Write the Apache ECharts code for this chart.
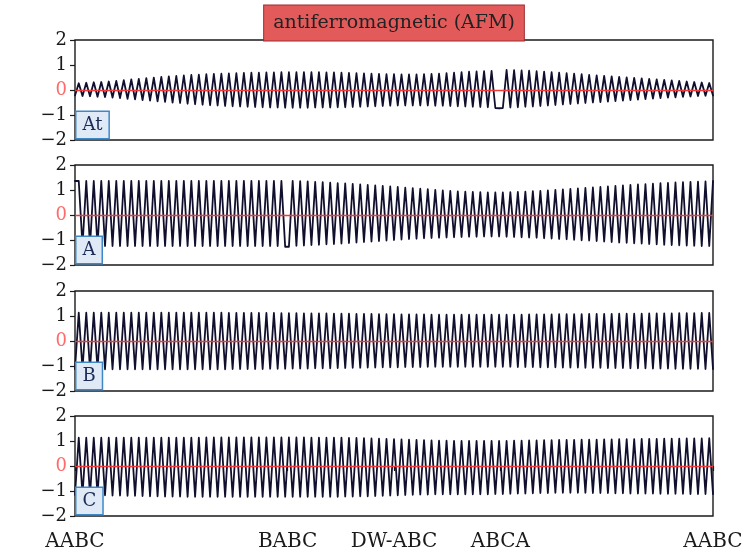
<!DOCTYPE html>
<html>
<head>
<meta charset="utf-8">
<script src="https://cdn.jsdelivr.net/npm/echarts@6/dist/echarts.min.js"></script>
<style>
  html, body { margin: 0; padding: 0; background: #fff; }
  #chart { width: 747px; height: 560px; }
</style>
</head>
<body>
<div id="chart"></div>
<script>
// stacking positions along the chain (atom index) and their names
const tickPos = [0, 56.667, 85, 113.333, 170]
const tickLabels = ['AABC', 'BABC', 'DW-ABC', 'ABCA', 'AABC']
const panelNames = ['At', 'A', 'B', 'C']
const chartTitle = 'antiferromagnetic (AFM)'
const yTicks = [-2, -1, 0, 1, 2]

// magnetic moment per atom
const momentAt = [
  -0.22, 0.27, -0.24, 0.29, -0.25, 0.31, -0.27, 0.32, -0.28, 0.34,
  -0.30, 0.36, -0.32, 0.39, -0.35, 0.42, -0.37, 0.44, -0.40, 0.47,
  -0.42, 0.49, -0.45, 0.52, -0.47, 0.54, -0.50, 0.56, -0.52, 0.58,
  -0.55, 0.60, -0.57, 0.61, -0.59, 0.63, -0.61, 0.64, -0.62, 0.65,
  -0.64, 0.66, -0.65, 0.67, -0.66, 0.68, -0.67, 0.69, -0.68, 0.69,
  -0.69, 0.70, -0.70, 0.70, -0.70, 0.71, -0.71, 0.71, -0.71, 0.71,
  -0.71, 0.71, -0.71, 0.71, -0.70, 0.71, -0.70, 0.70, -0.70, 0.70,
  -0.69, 0.69, -0.69, 0.68, -0.68, 0.67, -0.67, 0.66, -0.66, 0.65,
  -0.65, 0.64, -0.64, 0.63, -0.63, 0.63, -0.62, 0.62, -0.62, 0.62,
  -0.62, 0.62, -0.62, 0.63, -0.62, 0.64, -0.63, 0.65, -0.63, 0.67,
  -0.64, 0.69, -0.65, 0.71, -0.66, 0.73, -0.67, 0.74, -0.68, 0.75,
  -0.69, 0.76, -0.72, -0.73, -0.72, 0.80, -0.70, 0.79, -0.69, 0.78,
  -0.67, 0.77, -0.66, 0.75, -0.64, 0.73, -0.62, 0.71, -0.60, 0.69,
  -0.58, 0.67, -0.56, 0.65, -0.54, 0.63, -0.52, 0.60, -0.50, 0.58,
  -0.48, 0.56, -0.46, 0.54, -0.44, 0.52, -0.42, 0.50, -0.40, 0.48,
  -0.38, 0.46, -0.36, 0.44, -0.34, 0.42, -0.32, 0.40, -0.30, 0.38,
  -0.29, 0.36, -0.27, 0.34, -0.26, 0.32, -0.24, 0.30, -0.23, 0.28,
  -0.22
]

const momentA = [
  1.36, 1.36, -1.24, 1.36, -1.24, 1.36, -1.24, 1.36, -1.24, 1.36,
  -1.24, 1.36, -1.24, 1.36, -1.24, 1.36, -1.24, 1.36, -1.24, 1.36,
  -1.24, 1.36, -1.24, 1.36, -1.24, 1.36, -1.24, 1.36, -1.24, 1.36,
  -1.24, 1.36, -1.24, 1.36, -1.24, 1.36, -1.24, 1.36, -1.24, 1.36,
  -1.24, 1.36, -1.24, 1.36, -1.24, 1.36, -1.24, 1.36, -1.24, 1.36,
  -1.24, 1.36, -1.24, 1.36, -1.24, 1.36, -1.27, -1.27, 1.36, -1.23,
  1.35, -1.22, 1.34, -1.20, 1.32, -1.19, 1.31, -1.17, 1.29, -1.16,
  1.27, -1.14, 1.26, -1.12, 1.24, -1.10, 1.22, -1.08, 1.20, -1.06,
  1.18, -1.04, 1.16, -1.02, 1.14, -1.00, 1.12, -0.98, 1.09, -0.96,
  1.07, -0.95, 1.05, -0.93, 1.03, -0.92, 1.00, -0.91, 0.98, -0.90,
  0.96, -0.89, 0.94, -0.88, 0.93, -0.87, 0.92, -0.87, 0.91, -0.86,
  0.90, -0.86, 0.90, -0.86, 0.90, -0.87, 0.91, -0.88, 0.92, -0.89,
  0.93, -0.90, 0.95, -0.91, 0.96, -0.93, 0.98, -0.94, 1.00, -0.96,
  1.02, -0.97, 1.04, -0.99, 1.06, -1.01, 1.08, -1.02, 1.10, -1.04,
  1.12, -1.06, 1.14, -1.08, 1.16, -1.10, 1.18, -1.11, 1.20, -1.13,
  1.22, -1.14, 1.23, -1.16, 1.25, -1.17, 1.27, -1.19, 1.28, -1.20,
  1.30, -1.21, 1.31, -1.22, 1.32, -1.23, 1.33, -1.24, 1.34, -1.24,
  1.36
]

const momentB = [
  -1.12, 1.13, -1.13, 1.13, -1.13, 1.13, -1.13, 1.13, -1.13, 1.13,
  -1.13, 1.13, -1.13, 1.13, -1.13, 1.13, -1.13, 1.13, -1.13, 1.13,
  -1.13, 1.13, -1.13, 1.13, -1.13, 1.13, -1.13, 1.13, -1.13, 1.13,
  -1.13, 1.13, -1.13, 1.13, -1.13, 1.13, -1.13, 1.13, -1.13, 1.13,
  -1.13, 1.12, -1.12, 1.12, -1.12, 1.12, -1.12, 1.12, -1.12, 1.12,
  -1.12, 1.12, -1.11, 1.12, -1.11, 1.11, -1.11, 1.11, -1.10, 1.11,
  -1.10, 1.10, -1.10, 1.10, -1.09, 1.10, -1.09, 1.10, -1.09, 1.09,
  -1.08, 1.09, -1.08, 1.09, -1.07, 1.08, -1.07, 1.08, -1.06, 1.08,
  -1.06, 1.07, -1.05, 1.07, -1.05, 1.07, -1.05, 1.06, -1.04, 1.06,
  -1.04, 1.06, -1.04, 1.06, -1.03, 1.05, -1.03, 1.05, -1.03, 1.05,
  -1.03, 1.05, -1.03, 1.05, -1.03, 1.05, -1.03, 1.05, -1.03, 1.05,
  -1.03, 1.05, -1.03, 1.05, -1.03, 1.05, -1.03, 1.05, -1.04, 1.05,
  -1.04, 1.06, -1.04, 1.06, -1.05, 1.06, -1.05, 1.06, -1.05, 1.07,
  -1.06, 1.07, -1.06, 1.07, -1.06, 1.07, -1.07, 1.08, -1.07, 1.08,
  -1.07, 1.08, -1.08, 1.08, -1.08, 1.09, -1.08, 1.09, -1.09, 1.09,
  -1.09, 1.09, -1.09, 1.10, -1.10, 1.10, -1.10, 1.10, -1.10, 1.10,
  -1.11, 1.11, -1.11, 1.11, -1.11, 1.11, -1.11, 1.12, -1.12, 1.12,
  -1.12
]

const momentC = [
  -1.15, 1.13, -1.15, 1.13, -1.16, 1.13, -1.16, 1.13, -1.17, 1.13,
  -1.18, 1.13, -1.18, 1.13, -1.19, 1.13, -1.19, 1.13, -1.20, 1.13,
  -1.21, 1.13, -1.21, 1.13, -1.22, 1.13, -1.22, 1.13, -1.22, 1.13,
  -1.23, 1.13, -1.23, 1.13, -1.23, 1.14, -1.23, 1.14, -1.23, 1.14,
  -1.23, 1.14, -1.23, 1.14, -1.23, 1.14, -1.23, 1.14, -1.23, 1.14,
  -1.23, 1.14, -1.23, 1.14, -1.23, 1.14, -1.23, 1.14, -1.23, 1.14,
  -1.23, 1.14, -1.23, 1.13, -1.23, 1.13, -1.23, 1.13, -1.23, 1.13,
  -1.23, 1.13, -1.22, 1.12, -1.22, 1.12, -1.21, 1.11, -1.21, 1.10,
  -1.20, 1.09, -1.19, 1.08, -1.18, 1.07, -1.17, 1.06, -1.16, 1.05,
  -1.15, 1.04, -1.14, 1.03, -1.14, 1.02, -1.13, 1.01, -1.13, 1.01,
  -1.13, 1.00, -1.13, 1.00, -1.13, 1.00, -1.13, 1.00, -1.13, 1.00,
  -1.13, 1.00, -1.12, 1.00, -1.12, 1.00, -1.11, 1.01, -1.10, 1.01,
  -1.10, 1.02, -1.09, 1.02, -1.08, 1.03, -1.08, 1.03, -1.07, 1.04,
  -1.07, 1.04, -1.07, 1.04, -1.07, 1.05, -1.07, 1.05, -1.08, 1.05,
  -1.08, 1.06, -1.08, 1.06, -1.09, 1.07, -1.09, 1.07, -1.10, 1.07,
  -1.10, 1.08, -1.10, 1.08, -1.10, 1.08, -1.11, 1.09, -1.11, 1.09,
  -1.11, 1.09, -1.11, 1.10, -1.12, 1.10, -1.12, 1.10, -1.12, 1.11,
  -1.12
]

const panels = [momentAt, momentA, momentB, momentC]

const font = 'DejaVu Serif'
const lineColor = '#10102e'
const gridLeft = 75
const gridWidth = 638
const gridHeight = 100
const gridTops = [40, 165, 291, 416]

const minus = v => (v < 0 ? '\u2212' + Math.abs(v) : String(v))

const grids = gridTops.map(top => ({
  left: gridLeft,
  top: top,
  width: gridWidth,
  height: gridHeight,
  show: true,
  borderColor: '#1a1a1a',
  borderWidth: 1.4,
  backgroundColor: 'transparent'
}))

const xAxes = panels.map((_, i) => {
  const last = i === panels.length - 1
  return {
    type: 'value',
    gridIndex: i,
    min: 0,
    max: 170,
    splitLine: { show: false },
    axisLine: { show: false },
    axisTick: {
      show: last,
      inside: false,
      length: 5,
      customValues: tickPos,
      lineStyle: { color: '#1a1a1a', width: 1.2 }
    },
    axisLabel: {
      show: last,
      customValues: tickPos,
      margin: 16,
      fontFamily: font,
      fontSize: 20,
      color: '#1a1a1a',
      formatter: v => {
        const k = tickPos.findIndex(p => Math.abs(p - v) < 0.01)
        return k >= 0 ? tickLabels[k] : ''
      }
    }
  }
})

const yAxes = panels.map((_, i) => ({
  type: 'value',
  gridIndex: i,
  min: yTicks[0],
  max: yTicks[yTicks.length - 1],
  interval: 1,
  splitLine: { show: false },
  axisLine: { show: false },
  axisTick: { show: true, inside: false, length: 5, lineStyle: { color: '#1a1a1a', width: 1.2 } },
  axisLabel: {
    margin: 8,
    fontFamily: font,
    fontSize: 18,
    color: v => (Number(v) === 0 ? '#ff6b6b' : '#1a1a1a'),
    formatter: v => minus(v)
  }
}))

const series = panels.map((arr, i) => ({
  type: 'line',
  xAxisIndex: i,
  yAxisIndex: i,
  data: arr.map((v, k) => [k, v]),
  showSymbol: false,
  symbol: 'none',
  lineStyle: { color: lineColor, width: 1.8, join: 'round', cap: 'round' },
  markLine: {
    silent: true,
    z: 5,
    symbol: ['none', 'none'],
    label: { show: false },
    lineStyle: { color: '#f03a3a', width: 1.3, type: 'solid' },
    data: [{ yAxis: 0 }]
  }
}))

// boxed labels: figure title and panel names
const graphics = [{
  type: 'text',
  x: gridLeft + gridWidth / 2,
  y: 23,
  z: 10,
  style: {
    text: chartTitle,
    align: 'center',
    verticalAlign: 'middle',
    fontFamily: font,
    fontSize: 19,
    fill: '#222',
    backgroundColor: '#e35a5a',
    borderColor: '#9e2a2a',
    borderWidth: 1,
    padding: [8, 9, 8, 9]
  }
}].concat(panelNames.map((name, i) => ({
  type: 'text',
  x: gridLeft + 1.5,
  y: gridTops[i] + gridHeight - 2,
  z: 10,
  style: {
    text: name,
    align: 'left',
    verticalAlign: 'bottom',
    fontFamily: font,
    fontSize: 18,
    fill: '#1b2b55',
    backgroundColor: '#dfeaf6',
    borderColor: '#3f88c8',
    borderWidth: 1.5,
    padding: [4, 6, 4, 6]
  }
})))

const chart = echarts.init(document.getElementById('chart'))
chart.setOption({
  animation: false,
  backgroundColor: '#fff',
  grid: grids,
  xAxis: xAxes,
  yAxis: yAxes,
  series: series,
  graphic: graphics
})
</script>
</body>
</html>
